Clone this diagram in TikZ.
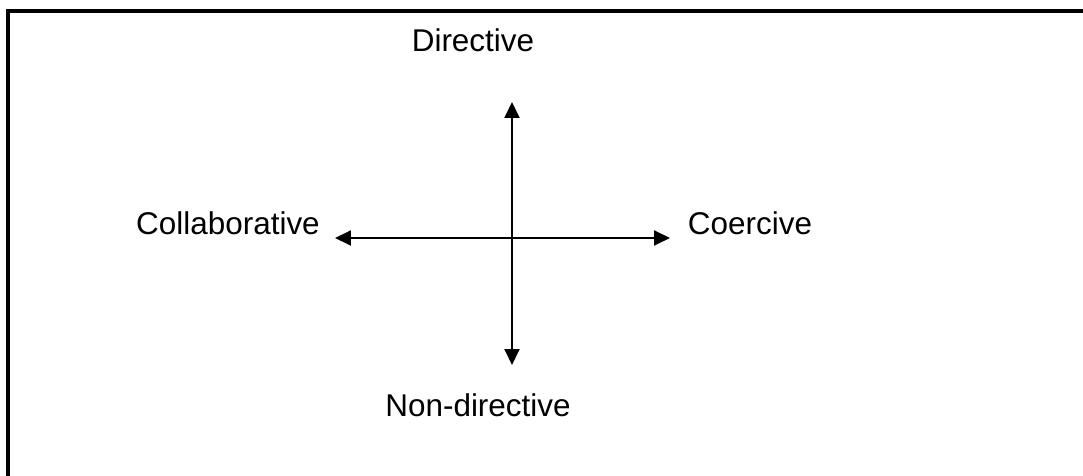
\documentclass[tikz,border=0pt]{standalone}
\usepackage{fontspec}
\setmainfont{Liberation Sans}
\usetikzlibrary{arrows.meta, positioning}

\begin{document}
\begin{tikzpicture}[
  x=0.02cm, y=-0.02cm,
  arr/.style={{Triangle[length=0.32cm, width=0.3cm]}-{Triangle[length=0.32cm, width=0.3cm]}, line width=1.1pt},
  frame/.style={line width=1.9pt},
  lbl/.style={anchor=base, inner sep=0pt, font=\fontsize{17.9}{21}\selectfont}
]
\useasboundingbox (0,0) rectangle (1083,476);

\draw[frame] (8,476) -- (8,11) -- (1083,11);

\node[lbl] (dir)    at (473,52)  {Directive};
\node[lbl] (nondir) at (478,417) {Non-directive};
\node[lbl] (coll)   at (228,235) {Collaborative};
\node[lbl] (coer)   at (750,235) {Coercive};

\coordinate (up)    at (512,102);
\coordinate (down)  at (512,365);
\coordinate (left)  at (335,238);
\coordinate (right) at (670,238);

\draw[arr] (up) -- (down);
\draw[arr] (left) -- (right);
\end{tikzpicture}
\end{document}
